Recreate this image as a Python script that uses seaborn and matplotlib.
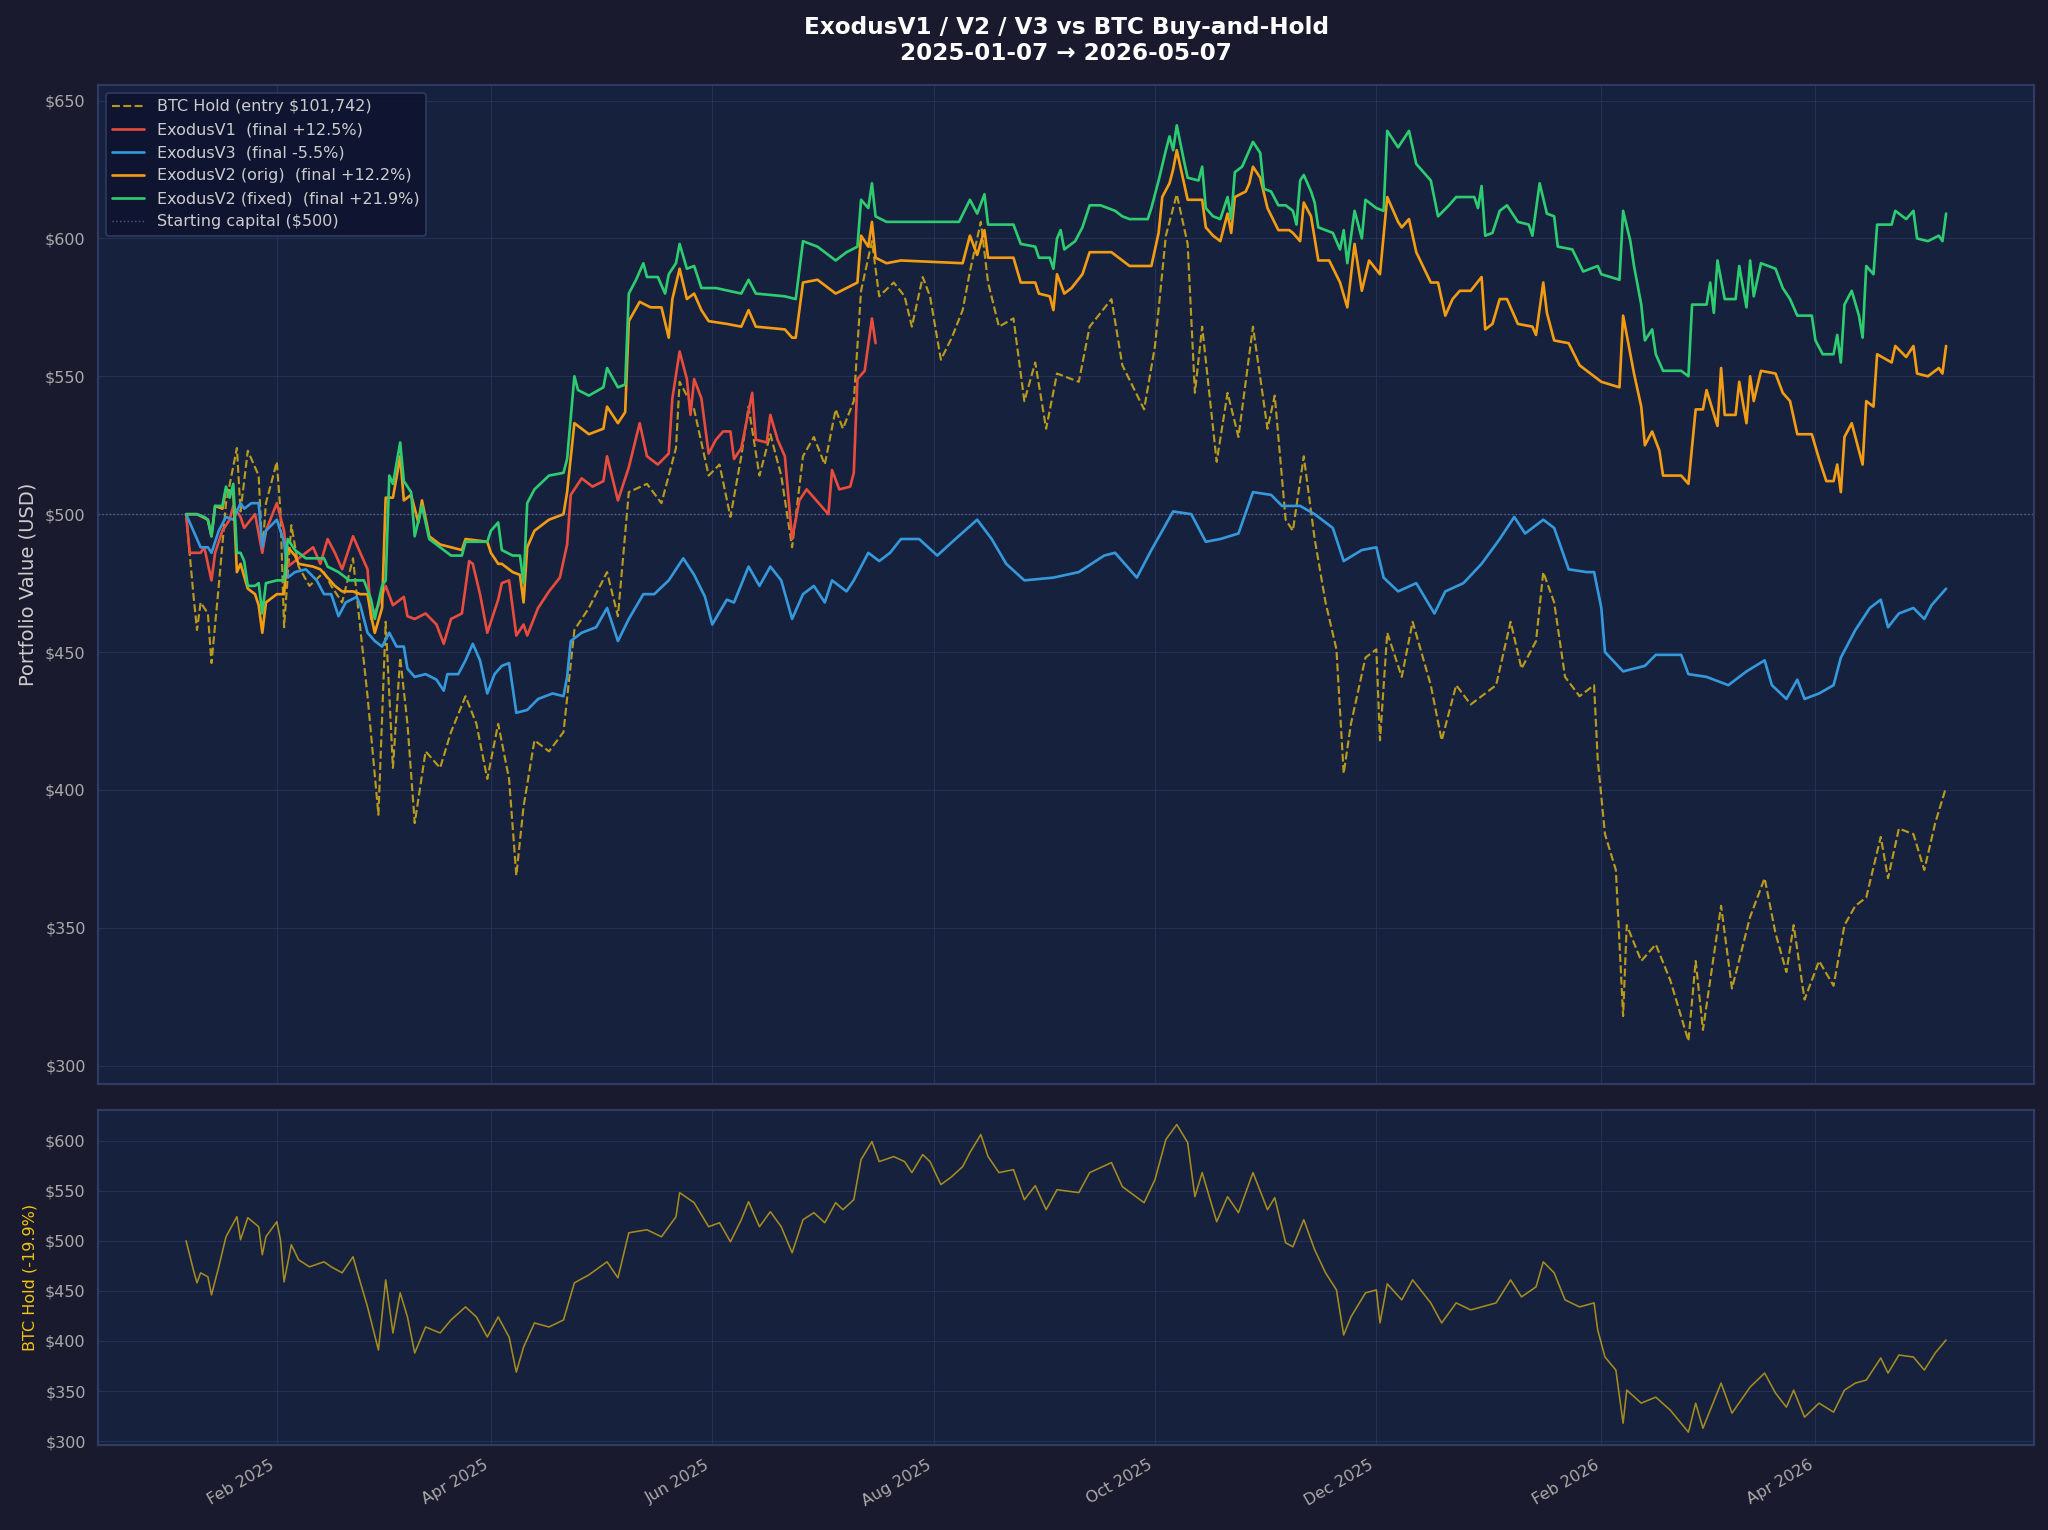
import pandas as pd
import matplotlib
matplotlib.use("Agg")
import matplotlib.pyplot as plt
import matplotlib.dates as mdates
from matplotlib.ticker import FuncFormatter
import seaborn as sns

# ---- data (days counted from 2025-01-07) ----
start = pd.Timestamp("2025-01-07")

btc_days = [0, 2, 3, 4, 6, 7, 9, 11, 14, 15, 17, 20, 21, 22, 25, 26, 27, 29, 31, 34,
            38, 40, 43, 46, 47, 50, 53, 55, 57, 59, 61, 63, 66, 70, 73, 77, 80, 83, 86, 89,
            91, 93, 96, 100, 104, 107, 111, 116, 119, 122, 127, 131, 135, 136, 140, 144, 147, 150, 153, 155,
            158, 161, 164, 167, 170, 173, 176, 179, 181, 184, 186, 189, 191, 195, 198, 200, 203, 205, 208, 211,
            214, 216, 219, 221, 224, 228, 231, 234, 237, 240, 246, 249, 255, 258, 264, 267, 270, 273, 276, 278,
            280, 284, 287, 290, 294, 298, 300, 303, 305, 308, 311, 314, 317, 319, 321, 325, 328, 329, 331, 335,
            338, 343, 346, 350, 354, 357, 361, 365, 368, 372, 374, 377, 380, 384, 388, 389, 391, 394, 396, 397,
            401, 405, 409, 414, 416, 418, 423, 426, 431, 435, 438, 441, 443, 446, 450, 454, 457, 460, 463, 467,
            469, 472, 476, 479, 482, 485]
btc_vals = [500, 471, 458, 468, 464, 446, 474, 504, 524, 501, 523, 514, 486, 504, 519, 501, 459, 496, 481, 474,
            479, 474, 468, 484, 471, 434, 391, 461, 408, 448, 424, 388, 414, 408, 421, 434, 424, 404, 424, 404,
            369, 394, 418, 414, 421, 458, 466, 479, 463, 508, 511, 504, 524, 548, 538, 514, 518, 499, 521, 539,
            514, 529, 514, 488, 521, 528, 518, 538, 531, 541, 581, 599, 579, 584, 579, 568, 586, 579, 556, 564,
            574, 588, 606, 584, 568, 571, 541, 555, 531, 551, 548, 568, 578, 554, 538, 561, 601, 616, 598, 544,
            568, 519, 544, 528, 568, 531, 543, 498, 494, 521, 491, 468, 451, 406, 424, 448, 451, 418, 457, 441,
            461, 438, 418, 438, 431, 434, 438, 461, 444, 454, 479, 468, 441, 434, 438, 411, 384, 371, 318, 351,
            338, 344, 331, 309, 338, 313, 358, 328, 354, 368, 348, 334, 351, 324, 338, 329, 351, 358, 361, 383,
            368, 386, 384, 371, 388, 401]

v1_days = [0, 1, 4, 5, 7, 8, 10, 12, 13, 15, 16, 19, 21, 22, 25, 27, 28, 30, 32, 35,
           37, 39, 41, 43, 46, 48, 50, 51, 53, 55, 57, 60, 61, 63, 66, 69, 71, 73, 76, 78,
           79, 81, 83, 86, 87, 89, 91, 93, 94, 97, 100, 103, 105, 106, 109, 112, 115, 116, 119, 122,
           125, 127, 130, 133, 134, 136, 138, 139, 140, 142, 144, 146, 148, 150, 151, 153, 156, 157, 160, 161,
           163, 165, 167, 169, 171, 173, 177, 178, 180, 183, 184, 185, 187, 189, 190]
v1_vals = [500, 486, 486, 488, 476, 486, 494, 498, 503, 499, 495, 500, 486, 494, 504, 494, 481, 483, 485, 488,
           482, 491, 486, 480, 492, 486, 480, 462, 467, 474, 467, 470, 463, 462, 464, 460, 453, 462, 464, 483,
           482, 471, 457, 469, 475, 476, 456, 460, 456, 466, 472, 477, 489, 507, 513, 510, 512, 521, 505, 517,
           533, 521, 518, 522, 542, 559, 549, 536, 549, 542, 522, 527, 530, 530, 520, 524, 544, 527, 526, 536,
           527, 521, 491, 505, 509, 506, 500, 516, 509, 510, 515, 549, 552, 571, 562]

v3_days = [0, 2, 4, 6, 7, 9, 11, 13, 15, 16, 18, 20, 21, 22, 25, 27, 28, 30, 33, 36,
           38, 40, 42, 44, 47, 48, 50, 52, 54, 56, 58, 60, 61, 63, 66, 69, 71, 72, 75, 77,
           79, 81, 83, 85, 87, 89, 91, 94, 97, 101, 104, 105, 106, 109, 113, 116, 119, 122, 126, 129,
           133, 137, 140, 143, 145, 149, 151, 155, 158, 161, 164, 167, 170, 173, 176, 178, 182, 184, 188, 191,
           194, 197, 202, 207, 212, 218, 222, 226, 231, 239, 246, 253, 256, 262, 266, 272, 277, 281, 285, 290,
           294, 299, 302, 307, 311, 316, 319, 324, 328, 330, 334, 339, 344, 347, 352, 357, 362, 366, 369, 374,
           377, 381, 386, 388, 390, 391, 396, 402, 405, 412, 414, 419, 425, 430, 435, 437, 441, 444, 446, 450,
           454, 456, 460, 464, 467, 469, 472, 476, 479, 481, 485]
v3_vals = [500, 494, 488, 488, 486, 494, 499, 498, 504, 502, 504, 504, 488, 494, 498, 490, 477, 479, 480, 476,
           471, 471, 463, 468, 470, 467, 457, 454, 452, 457, 452, 452, 444, 441, 442, 440, 436, 442, 442, 447,
           453, 447, 435, 442, 445, 446, 428, 429, 433, 435, 434, 441, 454, 457, 459, 466, 454, 462, 471, 471,
           476, 484, 478, 470, 460, 469, 468, 481, 474, 481, 476, 462, 471, 474, 468, 476, 472, 476, 486, 483,
           486, 491, 491, 485, 491, 498, 491, 482, 476, 477, 479, 485, 486, 477, 487, 501, 500, 490, 491, 493,
           508, 507, 503, 503, 500, 495, 483, 487, 488, 477, 472, 475, 464, 472, 475, 482, 491, 499, 493, 498,
           495, 480, 479, 479, 466, 450, 443, 445, 449, 449, 442, 441, 438, 443, 447, 438, 433, 440, 433, 435,
           438, 448, 458, 466, 469, 459, 464, 466, 462, 467, 473]

v2o_days = [0, 3, 6, 7, 8, 10, 11, 13, 14, 15, 17, 19, 20, 21, 22, 25, 27, 28, 30, 31,
            35, 37, 39, 41, 43, 46, 48, 50, 51, 52, 54, 55, 57, 59, 60, 62, 64, 65, 67, 70,
            73, 76, 77, 83, 84, 86, 87, 90, 92, 93, 94, 96, 100, 104, 105, 107, 109, 111, 115, 116,
            119, 121, 122, 125, 128, 131, 133, 134, 136, 138, 140, 142, 144, 149, 153, 155, 157, 165, 167, 168,
            170, 174, 179, 182, 185, 186, 188, 189, 190, 193, 197, 214, 216, 218, 220, 221, 228, 230, 234, 235,
            238, 239, 240, 242, 244, 247, 249, 255, 258, 260, 266, 267, 268, 269, 271, 272, 273, 275, 276, 280,
            281, 283, 285, 287, 288, 289, 292, 293, 294, 296, 298, 301, 304, 305, 307, 308, 310, 312, 315, 318,
            320, 322, 324, 326, 329, 331, 334, 335, 337, 339, 343, 345, 347, 349, 351, 354, 357, 358, 360, 362,
            364, 367, 371, 372, 374, 375, 377, 381, 384, 386, 390, 395, 396, 398, 399, 401, 402, 404, 406, 407,
            412, 414, 416, 418, 419, 422, 423, 424, 427, 428, 430, 431, 432, 434, 438, 440, 442, 444, 448, 450,
            452, 454, 455, 456, 457, 459, 461, 462, 463, 465, 466, 470, 471, 474, 476, 477, 480, 483, 484, 485]
v2o_vals = [500, 500, 498, 492, 503, 502, 509, 508, 479, 482, 473, 471, 467, 457, 468, 471, 471, 488, 485, 482,
            481, 480, 477, 474, 472, 472, 471, 471, 463, 457, 466, 506, 506, 521, 505, 507, 497, 505, 492, 489,
            488, 487, 491, 490, 486, 482, 482, 479, 478, 468, 488, 494, 498, 500, 508, 533, 531, 529, 531, 539,
            533, 537, 570, 577, 575, 575, 564, 578, 589, 578, 580, 574, 570, 569, 568, 574, 568, 567, 564, 564,
            584, 585, 580, 582, 584, 601, 597, 606, 593, 591, 592, 591, 601, 594, 603, 593, 593, 584, 584, 580,
            579, 574, 587, 580, 582, 587, 595, 595, 592, 590, 590, 596, 602, 615, 620, 625, 632, 620, 614, 614,
            604, 601, 599, 609, 602, 615, 617, 620, 626, 622, 611, 603, 603, 602, 599, 613, 608, 592, 592, 584,
            575, 598, 581, 592, 587, 615, 606, 604, 607, 595, 584, 584, 572, 578, 581, 581, 586, 567, 569, 578,
            578, 569, 568, 565, 584, 573, 563, 562, 554, 552, 548, 546, 572, 558, 551, 539, 525, 530, 523, 514,
            514, 511, 538, 538, 545, 532, 553, 536, 536, 548, 533, 550, 541, 552, 551, 544, 541, 529, 529, 520,
            512, 512, 518, 508, 528, 533, 523, 518, 541, 539, 558, 555, 561, 557, 561, 551, 550, 553, 551, 561]

v2f_days = [0, 3, 5, 6, 7, 8, 10, 11, 12, 13, 14, 15, 16, 17, 19, 20, 21, 22, 25, 27,
            28, 30, 33, 38, 39, 42, 45, 49, 51, 52, 54, 55, 56, 57, 59, 60, 62, 63, 65, 67,
            70, 73, 76, 77, 83, 84, 86, 87, 90, 92, 93, 94, 96, 100, 104, 105, 107, 108, 111, 115,
            116, 119, 121, 122, 124, 126, 127, 130, 132, 133, 135, 136, 138, 140, 142, 146, 153, 155, 157, 165,
            168, 170, 174, 179, 182, 185, 186, 188, 189, 190, 193, 197, 213, 216, 218, 220, 221, 228, 230, 234,
            235, 238, 239, 240, 241, 242, 243, 245, 247, 249, 252, 256, 258, 260, 265, 266, 268, 270, 271, 272,
            273, 275, 276, 279, 280, 281, 283, 285, 287, 288, 289, 291, 293, 294, 296, 297, 299, 301, 303, 305,
            306, 307, 308, 310, 311, 312, 316, 318, 319, 320, 322, 324, 325, 328, 330, 331, 334, 337, 339, 341,
            343, 345, 348, 350, 355, 356, 357, 358, 360, 362, 364, 367, 370, 371, 373, 375, 377, 378, 382, 385,
            389, 390, 395, 396, 398, 399, 401, 402, 404, 405, 407, 412, 414, 415, 419, 420, 421, 422, 424, 427,
            428, 430, 431, 432, 434, 438, 440, 442, 444, 448, 449, 451, 454, 455, 456, 457, 459, 461, 462, 463,
            465, 466, 470, 471, 474, 476, 477, 480, 483, 484, 485]
v2f_vals = [500, 500, 499, 498, 492, 503, 503, 510, 506, 511, 486, 486, 483, 474, 474, 475, 464, 475, 476, 476,
            491, 487, 484, 484, 481, 479, 476, 476, 469, 462, 474, 476, 514, 511, 526, 512, 508, 492, 503, 491,
            488, 485, 485, 490, 490, 494, 497, 487, 485, 485, 475, 504, 509, 514, 515, 520, 550, 545, 543, 546,
            553, 546, 547, 580, 585, 591, 586, 586, 580, 587, 591, 598, 589, 590, 582, 582, 580, 585, 580, 579,
            578, 599, 597, 592, 595, 597, 614, 611, 620, 608, 606, 606, 606, 614, 609, 616, 605, 605, 598, 597,
            593, 593, 589, 600, 603, 596, 597, 599, 604, 612, 612, 610, 608, 607, 607, 611, 621, 632, 637, 632,
            641, 628, 622, 621, 626, 611, 608, 607, 615, 607, 624, 626, 632, 635, 631, 618, 617, 612, 612, 610,
            605, 621, 623, 617, 613, 604, 602, 596, 603, 591, 610, 600, 614, 611, 610, 639, 633, 639, 627, 624,
            621, 608, 612, 615, 615, 611, 619, 601, 602, 610, 612, 606, 605, 601, 620, 609, 608, 597, 596, 588,
            590, 587, 585, 610, 599, 590, 576, 563, 567, 558, 552, 552, 550, 576, 576, 584, 573, 592, 578, 578,
            590, 575, 592, 579, 591, 589, 582, 578, 572, 572, 563, 558, 558, 565, 555, 576, 581, 572, 564, 590,
            587, 605, 605, 610, 607, 610, 600, 599, 601, 599, 609]

labels = {
    "btc": "BTC Hold (entry $101,742)",
    "v1": "ExodusV1  (final +12.5%)",
    "v3": "ExodusV3  (final -5.5%)",
    "v2o": "ExodusV2 (orig)  (final +12.2%)",
    "v2f": "ExodusV2 (fixed)  (final +21.9%)",
}


def to_dates(days):
    return start + pd.to_timedelta(days, unit="D")


# ---- style ----
sns.set_style("dark")
plt.rcParams["font.family"] = ["DejaVu Sans"]
BG = "#1a1a2e"
AX_BG = "#16213e"
EDGE = "#2e3b63"
TXT = "#aaaaaa"
GOLD = "#f1c40f"

fig, (ax, ax2) = plt.subplots(2, 1, figsize=(16, 1530 / 128), dpi=128, sharex=True,
                              gridspec_kw={"height_ratios": [999, 335]})
fig.subplots_adjust(left=0.0479, right=0.9932, top=0.9444, bottom=0.0556, hspace=0.039)
fig.patch.set_facecolor(BG)

line_kw = dict(estimator=None, errorbar=None, sort=False)

# main panel
sns.lineplot(x=to_dates(btc_days), y=btc_vals, ax=ax, color=GOLD, lw=1.2, alpha=0.75,
             linestyle="--", label=labels["btc"], **line_kw)
sns.lineplot(x=to_dates(v1_days), y=v1_vals, ax=ax, color="#e74c3c", lw=1.5,
             label=labels["v1"], **line_kw)
sns.lineplot(x=to_dates(v3_days), y=v3_vals, ax=ax, color="#3498db", lw=1.5,
             label=labels["v3"], **line_kw)
sns.lineplot(x=to_dates(v2o_days), y=v2o_vals, ax=ax, color="#f39c12", lw=1.5,
             label=labels["v2o"], **line_kw)
sns.lineplot(x=to_dates(v2f_days), y=v2f_vals, ax=ax, color="#2ecc71", lw=1.5,
             label=labels["v2f"], **line_kw)
ax.axhline(500, color="#7a86b0", ls=":", lw=0.8, alpha=0.6, label="Starting capital ($500)")

ax.set_ylim(293.4, 655.6)
ax.set_ylabel("Portfolio Value (USD)", color="#cccccc", fontsize=11)
ax.set_title("ExodusV1 / V2 / V3 vs BTC Buy-and-Hold\n2025-01-07 → 2026-05-07",
             color="white", fontsize=13, fontweight="bold", pad=14)
leg = ax.legend(loc="upper left", fontsize=9, facecolor="#0f1430", edgecolor=EDGE,
                labelcolor="#cccccc", framealpha=0.9)

# BTC-only panel
sns.lineplot(x=to_dates(btc_days), y=btc_vals, ax=ax2, color=GOLD, lw=0.9, alpha=0.65, **line_kw)
ax2.set_ylim(296.3, 630.5)
ax2.set_ylabel("BTC Hold (-19.9%)", color=GOLD, fontsize=9)

money = FuncFormatter(lambda v, p: f"${v:.0f}")
for a in (ax, ax2):
    a.set_facecolor(AX_BG)
    a.grid(True, color=EDGE, lw=0.6, alpha=0.6)
    a.tick_params(colors=TXT, labelsize=9, length=3.5)
    a.yaxis.set_major_formatter(money)
    a.set_xlabel("")
    for s in a.spines.values():
        s.set_color(EDGE)
        s.set_linewidth(1.2)

ax2.xaxis.set_major_locator(mdates.MonthLocator(bymonth=[2, 4, 6, 8, 10, 12]))
ax2.xaxis.set_major_formatter(mdates.DateFormatter("%b %Y"))
for lbl in ax2.get_xticklabels():
    lbl.set_rotation(30)
    lbl.set_ha("right")

fig.savefig("out.png", dpi=128, facecolor=BG)
